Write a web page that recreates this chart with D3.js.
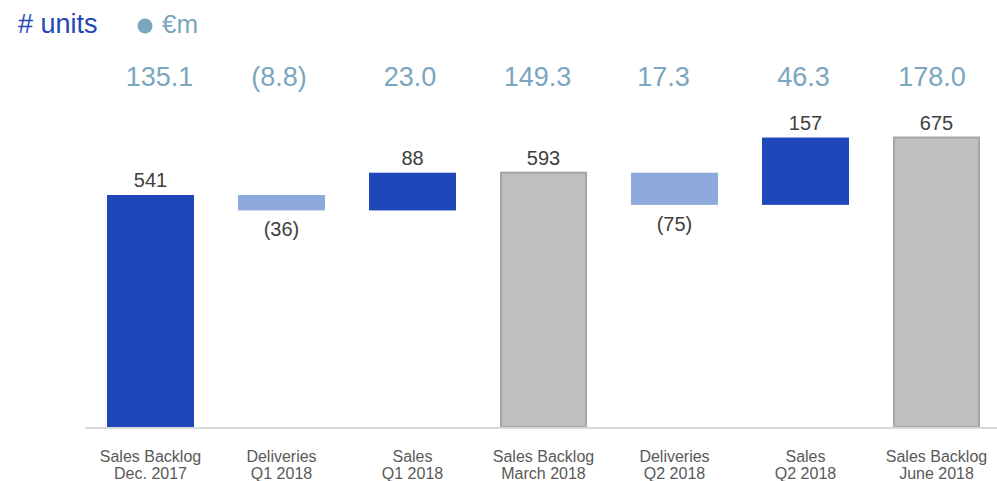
<!DOCTYPE html>
<html>
<head>
<meta charset="utf-8">
<script src="https://cdn.jsdelivr.net/npm/d3@7/dist/d3.min.js"></script>
<style>
  html, body { margin: 0; padding: 0; background: #fff; }
  svg { display: block; font-family: "Liberation Sans", Arial, sans-serif; }
</style>
</head>
<body>
<svg id="chart" width="997" height="481"></svg>
<script>
// Backlog bridge: units per step and matching € million values
const categories = [
  ["Sales Backlog", "Dec. 2017"],
  ["Deliveries", "Q1 2018"],
  ["Sales", "Q1 2018"],
  ["Sales Backlog", "March 2018"],
  ["Deliveries", "Q2 2018"],
  ["Sales", "Q2 2018"],
  ["Sales Backlog", "June 2018"]
];
const units = [541, -36, 88, 593, -75, 157, 675];
const kinds = ["start", "delta", "delta", "total", "delta", "delta", "total"];
const euroLabels = ["135.1", "(8.8)", "23.0", "149.3", "17.3", "46.3", "178.0"];

// Layout: horizontal nudge of each € label relative to its column centre (px)
const euroNudge = [9, -2.5, -2.5, -6, -11, -2, -4.5];

const svg = d3.select("#chart");
const W = 997, H = 481;
const baseY = 427;

// Build floating segments for the waterfall
let running = 0;
const bars = units.map((v, i) => {
  let y0, y1;
  if (kinds[i] === "start" || kinds[i] === "total") {
    y0 = 0; y1 = v; running = v;
  } else {
    y0 = running; y1 = running + v; running = y1;
  }
  return { i, v, kind: kinds[i], lo: Math.min(y0, y1), hi: Math.max(y0, y1) };
});

const x = d3.scaleBand()
  .domain(d3.range(categories.length))
  .range([85, 1002])
  .paddingInner(0.336)
  .paddingOuter(0.168);

const y = d3.scaleLinear()
  .domain([0, 541])
  .range([baseY, 195]);

function fillOf(d) {
  if (d.kind === "start") return "#1f47ba";
  if (d.kind === "total") return "#bfbfbf";
  return d.v < 0 ? "#8eaadc" : "#1f47ba";
}

// Bars
svg.append("g").selectAll("rect")
  .data(bars)
  .join("rect")
  .attr("x", d => x(d.i) + (d.kind === "total" ? 1 : 0))
  .attr("width", d => x.bandwidth() - (d.kind === "total" ? 2 : 0))
  .attr("y", d => y(d.hi))
  .attr("height", d => y(d.lo) - y(d.hi))
  .attr("fill", fillOf)
  .attr("stroke", d => d.kind === "total" ? "#a6a6a6" : "none")
  .attr("stroke-width", 2);

// Baseline
svg.append("line")
  .attr("x1", 85).attr("x2", W)
  .attr("y1", baseY + 1).attr("y2", baseY + 1)
  .attr("stroke", "#d9d9d9")
  .attr("stroke-width", 2);

// Unit labels
svg.append("g").selectAll("text")
  .data(bars)
  .join("text")
  .attr("x", d => x(d.i) + x.bandwidth() / 2)
  .attr("y", d => d.v < 0 ? y(d.lo) + 26 : y(d.hi) - 8)
  .attr("text-anchor", "middle")
  .attr("font-size", 20)
  .attr("fill", "#404040")
  .text(d => d.v < 0 ? `(${Math.abs(d.v)})` : d.v);

// € million row
svg.append("g").selectAll("text")
  .data(euroLabels)
  .join("text")
  .attr("x", (d, i) => x(i) + x.bandwidth() / 2 + euroNudge[i])
  .attr("y", 86)
  .attr("text-anchor", "middle")
  .attr("font-size", 27)
  .attr("fill", "#7aa6bf")
  .text(d => d);

// Category axis labels
const cat = svg.append("g").selectAll("text")
  .data(categories)
  .join("text")
  .attr("text-anchor", "middle")
  .attr("font-size", 16)
  .attr("fill", "#595959");
cat.each(function (d, i) {
  const t = d3.select(this);
  const cx = x(i) + x.bandwidth() / 2;
  t.append("tspan").attr("x", cx).attr("y", 462).text(d[0]);
  t.append("tspan").attr("x", cx).attr("y", 479).text(d[1]);
});

// Legend
svg.append("text")
  .attr("x", 18).attr("y", 33)
  .attr("font-size", 27)
  .attr("fill", "#2447b8")
  .text("# units");
svg.append("circle")
  .attr("cx", 145).attr("cy", 26).attr("r", 7.5)
  .attr("fill", "#7aa6bf");
svg.append("text")
  .attr("x", 162).attr("y", 33)
  .attr("font-size", 26)
  .attr("fill", "#7aa6bf")
  .text("€m");
</script>
</body>
</html>
